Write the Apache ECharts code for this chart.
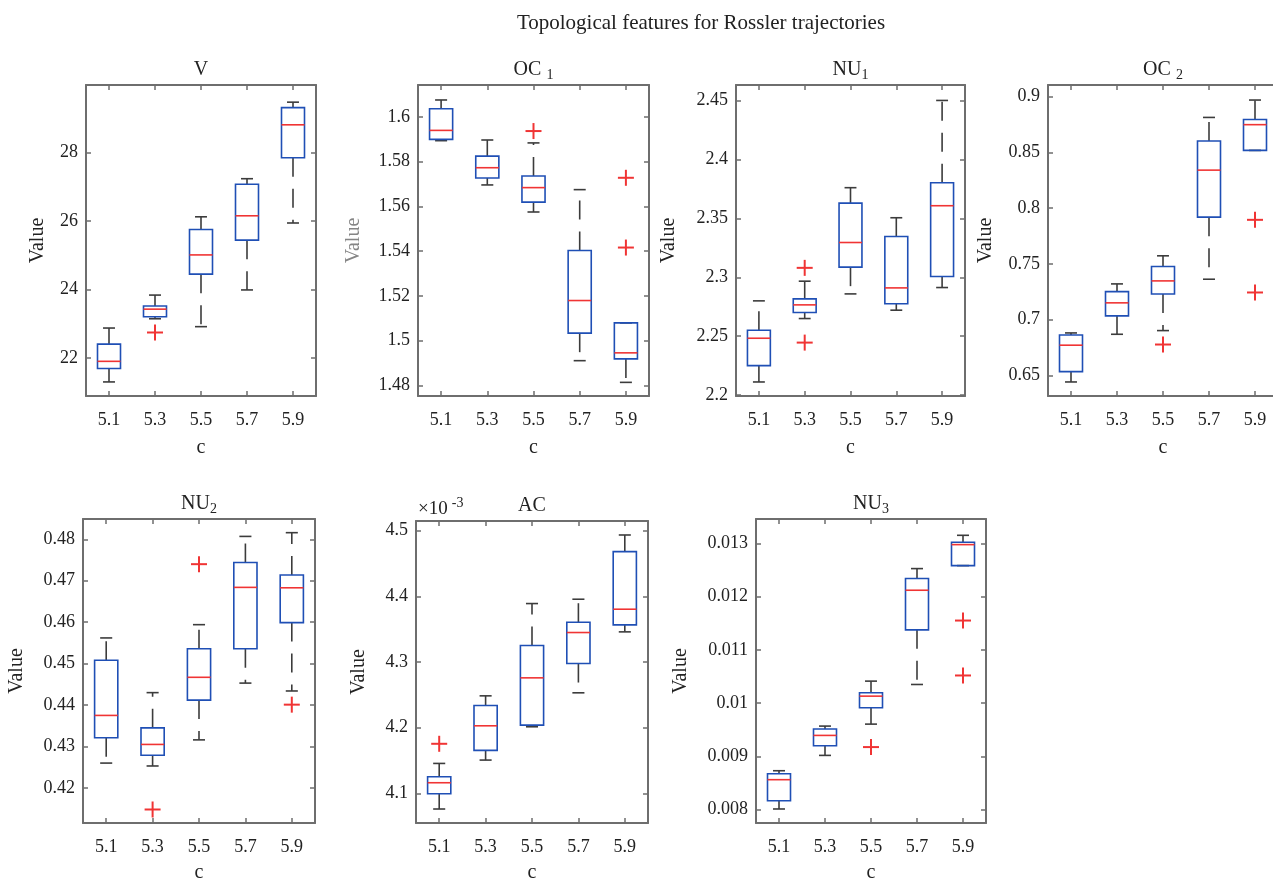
<!DOCTYPE html>
<html>
<head>
<meta charset="utf-8">
<script src="https://cdn.jsdelivr.net/npm/echarts@6/dist/echarts.min.js"></script>
<style>
  html, body { margin: 0; padding: 0; background: #fff; }
  #chart { width: 1273px; height: 882px; }
</style>
</head>
<body>
<div id="chart"></div>
<script>
// Parameter c of the Rossler system
const categories = ['5.1', '5.3', '5.5', '5.7', '5.9'];

// Box statistics for each c: [lower whisker, Q1, median, Q3, upper whisker]
// Outliers: [category index, value]
const boxV = [
  [21.31, 21.70, 21.91, 22.41, 22.88],
  [23.15, 23.21, 23.43, 23.52, 23.84],
  [22.92, 24.45, 25.01, 25.75, 26.12],
  [23.99, 25.44, 26.15, 27.07, 27.23],
  [25.94, 27.84, 28.80, 29.30, 29.46]
];
const outV = [[1, 22.75]];
const ticksV = [22, 24, 26, 28];

const boxOC1 = [
  [1.5894, 1.5900, 1.5940, 1.6037, 1.6076],
  [1.5696, 1.5727, 1.5773, 1.5825, 1.5897],
  [1.5575, 1.5619, 1.5684, 1.5736, 1.5884],
  [1.4910, 1.5033, 1.5179, 1.5403, 1.5675],
  [1.4813, 1.4918, 1.4945, 1.5079, 1.5079]
];
const outOC1 = [[2, 1.5937], [4, 1.5728], [4, 1.5416]];
const ticksOC1 = [1.48, 1.5, 1.52, 1.54, 1.56, 1.58, 1.6];

const boxNU1 = [
  [2.2112, 2.2251, 2.2483, 2.2551, 2.2800],
  [2.2650, 2.2701, 2.2766, 2.2817, 2.2967],
  [2.2859, 2.3086, 2.3295, 2.3629, 2.3760],
  [2.2721, 2.2775, 2.2910, 2.3346, 2.3505],
  [2.2913, 2.3007, 2.3607, 2.3802, 2.4500]
];
const outNU1 = [[1, 2.3080], [1, 2.2446]];
const ticksNU1 = [2.2, 2.25, 2.3, 2.35, 2.4, 2.45];

const boxOC2 = [
  [0.6440, 0.6533, 0.6770, 0.6862, 0.6880],
  [0.6868, 0.7033, 0.7150, 0.7251, 0.7320],
  [0.6901, 0.7230, 0.7347, 0.7476, 0.7572],
  [0.7362, 0.7919, 0.8341, 0.8602, 0.8814],
  [0.8518, 0.8518, 0.8749, 0.8796, 0.8970]
];
const outOC2 = [[2, 0.6776], [4, 0.7895], [4, 0.7243]];
const ticksOC2 = [0.65, 0.7, 0.75, 0.8, 0.85, 0.9];

const boxNU2 = [
  [0.4260, 0.4321, 0.4375, 0.4508, 0.4562],
  [0.4253, 0.4279, 0.4305, 0.4345, 0.4430],
  [0.4316, 0.4412, 0.4467, 0.4536, 0.4594],
  [0.4453, 0.4536, 0.4684, 0.4744, 0.4807],
  [0.4434, 0.4599, 0.4683, 0.4714, 0.4816]
];
const outNU2 = [[1, 0.4148], [2, 0.4740], [4, 0.4401]];
const ticksNU2 = [0.42, 0.43, 0.44, 0.45, 0.46, 0.47, 0.48];

const boxAC = [
  [4.0762e-3, 4.0995e-3, 4.1162e-3, 4.1253e-3, 4.1456e-3],
  [4.1507e-3, 4.1654e-3, 4.2029e-3, 4.2338e-3, 4.2485e-3],
  [4.2014e-3, 4.2039e-3, 4.2759e-3, 4.3251e-3, 4.3890e-3],
  [4.2531e-3, 4.2977e-3, 4.3449e-3, 4.3606e-3, 4.3956e-3],
  [4.3459e-3, 4.3565e-3, 4.3804e-3, 4.4681e-3, 4.4934e-3]
];
const outAC = [[0, 4.1755e-3]];
const ticksAC = [4.1e-3, 4.2e-3, 4.3e-3, 4.4e-3, 4.5e-3];

const boxNU3 = [
  [0.008013, 0.008169, 0.008563, 0.008675, 0.008731],
  [0.009019, 0.009200, 0.009394, 0.009513, 0.009569],
  [0.009606, 0.009913, 0.010131, 0.010194, 0.010413],
  [0.010350, 0.011375, 0.012119, 0.012338, 0.012525],
  [0.012581, 0.012581, 0.012975, 0.013019, 0.013150]
];
const outNU3 = [[2, 0.009175], [4, 0.011550], [4, 0.010519]];
const ticksNU3 = [0.008, 0.009, 0.010, 0.011, 0.012, 0.013];

// Colours and fonts
const FONT = '"Liberation Serif", "Times New Roman", serif';
const TEXT = '#222222';
const AXIS = '#6e6e6e';
const BOX = '#1f4fb5';
const MEDIAN = '#f03434';
const WHISKER = '#3c3c3c';

// One subplot per feature
const panels = [
  { title: 'V',          box: boxV,   out: outV,   ticks: ticksV,   min: 20.90,     max: 29.96,     scale: 1,
    rect: { left: 86,   top: 85,  width: 230, height: 311 }, yNameGap: 38, xNameGap: 42 },
  { title: 'OC {sub|1}', box: boxOC1, out: outOC1, ticks: ticksOC1, min: 1.4752,    max: 1.6143,    scale: 1,
    rect: { left: 418,  top: 85,  width: 231, height: 311 }, yNameGap: 54, xNameGap: 42, nameColor: '#858585' },
  { title: 'NU{sub|1}',  box: boxNU1, out: outNU1, ticks: ticksNU1, min: 2.1993,    max: 2.4631,    scale: 1,
    rect: { left: 736,  top: 85,  width: 229, height: 311 }, yNameGap: 57, xNameGap: 42 },
  { title: 'OC {sub|2}', box: boxOC2, out: outOC2, ticks: ticksOC2, min: 0.6314,    max: 0.9105,    scale: 1,
    rect: { left: 1048, top: 85,  width: 230, height: 311 }, yNameGap: 52, xNameGap: 42 },
  { title: 'NU{sub|2}',  box: boxNU2, out: outNU2, ticks: ticksNU2, min: 0.41154,   max: 0.4849,    scale: 1,
    rect: { left: 83,   top: 519, width: 232, height: 304 }, yNameGap: 56, xNameGap: 40 },
  { title: 'AC',         box: boxAC,  out: outAC,  ticks: ticksAC,  min: 4.0549e-3, max: 4.5147e-3, scale: 1000,
    rect: { left: 416,  top: 521, width: 232, height: 302 }, yNameGap: 47, xNameGap: 40 },
  { title: 'NU{sub|3}',  box: boxNU3, out: outNU3, ticks: ticksNU3, min: 0.00775,   max: 0.013456,  scale: 1,
    rect: { left: 756,  top: 519, width: 230, height: 304 }, yNameGap: 65, xNameGap: 40 }
];

// Box, median, dashed whiskers and caps, drawn through the axis scales
function renderBox(params, api) {
  const i = api.value(0);
  const lo = api.coord([i, api.value(1)]);
  const q1 = api.coord([i, api.value(2)]);
  const md = api.coord([i, api.value(3)]);
  const q3 = api.coord([i, api.value(4)]);
  const hi = api.coord([i, api.value(5)]);
  const band = api.size([1, 0])[0];
  const half = band * 0.25;
  const cap = band * 0.13;
  const x = md[0];
  const dashed = { stroke: WHISKER, lineWidth: 1.6, lineDash: [19, 12] };
  const solid = { stroke: WHISKER, lineWidth: 1.6 };
  return {
    type: 'group',
    children: [
      { type: 'line', shape: { x1: x, y1: q3[1], x2: x, y2: hi[1] }, style: dashed },
      { type: 'line', shape: { x1: x, y1: q1[1], x2: x, y2: lo[1] }, style: dashed },
      { type: 'line', shape: { x1: x - cap, y1: hi[1], x2: x + cap, y2: hi[1] }, style: solid },
      { type: 'line', shape: { x1: x - cap, y1: lo[1], x2: x + cap, y2: lo[1] }, style: solid },
      { type: 'rect', shape: { x: x - half, y: q3[1], width: 2 * half, height: q1[1] - q3[1] },
        style: { stroke: BOX, fill: 'none', lineWidth: 1.6 } },
      { type: 'line', shape: { x1: x - half, y1: md[1], x2: x + half, y2: md[1] },
        style: { stroke: MEDIAN, lineWidth: 1.6 } }
    ]
  };
}

// Red "+" marker for each outlier
function renderOutlier(params, api) {
  const p = api.coord([api.value(0), api.value(1)]);
  const r = 8;
  const st = { stroke: MEDIAN, lineWidth: 2 };
  return {
    type: 'group',
    children: [
      { type: 'line', shape: { x1: p[0] - r, y1: p[1], x2: p[0] + r, y2: p[1] }, style: st },
      { type: 'line', shape: { x1: p[0], y1: p[1] - r, x2: p[0], y2: p[1] + r }, style: st }
    ]
  };
}

const grid = [], xAxis = [], yAxis = [], series = [];
const lineStyle = { color: AXIS, width: 2 };
const tickStyle = { color: AXIS, width: 1.5 };
const subRich = { sub: { fontSize: 14, fontFamily: FONT, color: TEXT, lineHeight: 20, padding: [10, 0, 0, 0] } };

panels.forEach((p, k) => {
  grid.push(Object.assign({ outerBoundsMode: 'none', containLabel: false }, p.rect));
  const fmt = v => String(+(v * p.scale).toFixed(4));

  xAxis.push({
    gridIndex: k, type: 'category', data: categories, position: 'bottom', boundaryGap: true,
    axisLine: { show: true, onZero: false, lineStyle },
    axisTick: { show: true, inside: true, alignWithLabel: true, interval: 0, length: 5, lineStyle: tickStyle },
    axisLabel: { interval: 0, fontFamily: FONT, fontSize: 18, color: TEXT, margin: 15 },
    splitLine: { show: false },
    name: 'c', nameLocation: 'middle', nameGap: p.xNameGap,
    nameTextStyle: { fontFamily: FONT, fontSize: 20, color: TEXT }
  });
  xAxis.push({
    gridIndex: k, type: 'category', data: categories, position: 'top', boundaryGap: true,
    axisLine: { show: true, onZero: false, lineStyle },
    axisTick: { show: true, inside: true, alignWithLabel: true, interval: 0, length: 5, lineStyle: tickStyle },
    axisLabel: { show: false },
    splitLine: { show: false },
    name: p.title, nameLocation: 'middle', nameGap: 0,
    nameTextStyle: { fontFamily: FONT, fontSize: 20, color: TEXT, lineHeight: 30, rich: subRich }
  });
  yAxis.push({
    gridIndex: k, type: 'value', position: 'left', min: p.min, max: p.max,
    axisLine: { show: true, onZero: false, lineStyle },
    axisTick: { show: true, inside: true, length: 5, customValues: p.ticks, lineStyle: tickStyle },
    axisLabel: { customValues: p.ticks, formatter: fmt, fontFamily: FONT, fontSize: 18, color: TEXT, margin: 8 },
    splitLine: { show: false },
    name: 'Value', nameLocation: 'middle', nameGap: p.yNameGap,
    nameTextStyle: { fontFamily: FONT, fontSize: 20, color: p.nameColor || TEXT, lineHeight: 20 }
  });
  yAxis.push({
    gridIndex: k, type: 'value', position: 'right', min: p.min, max: p.max,
    axisLine: { show: true, onZero: false, lineStyle },
    axisTick: { show: true, inside: true, length: 5, customValues: p.ticks, lineStyle: tickStyle },
    axisLabel: { show: false },
    splitLine: { show: false }
  });

  series.push({
    type: 'custom', xAxisIndex: 2 * k, yAxisIndex: 2 * k,
    renderItem: renderBox,
    encode: { x: 0, y: [1, 2, 3, 4, 5] },
    data: p.box.map((row, i) => [i].concat(row)),
    silent: true
  });
  series.push({
    type: 'custom', xAxisIndex: 2 * k, yAxisIndex: 2 * k,
    renderItem: renderOutlier,
    encode: { x: 0, y: 1 },
    data: p.out,
    silent: true
  });
});

const chart = echarts.init(document.getElementById('chart'), null, { renderer: 'canvas' });
chart.setOption({
  backgroundColor: '#ffffff',
  animation: false,
  grid, xAxis, yAxis, series,
  graphic: [
    {
      type: 'text', x: 701, y: 23,
      style: { text: 'Topological features for Rossler trajectories', fontFamily: FONT, fontSize: 21,
               fill: TEXT, align: 'center', verticalAlign: 'middle' }
    },
    {
      type: 'text', x: 418, y: 509,
      style: { text: '×10{sup|-3}', fontFamily: FONT, fontSize: 19, lineHeight: 24, fill: TEXT,
               align: 'left', verticalAlign: 'middle',
               rich: { sup: { fontFamily: FONT, fontSize: 14, lineHeight: 16, padding: [0, 0, 12, 4], fill: TEXT } } }
    }
  ]
});
</script>
</body>
</html>
